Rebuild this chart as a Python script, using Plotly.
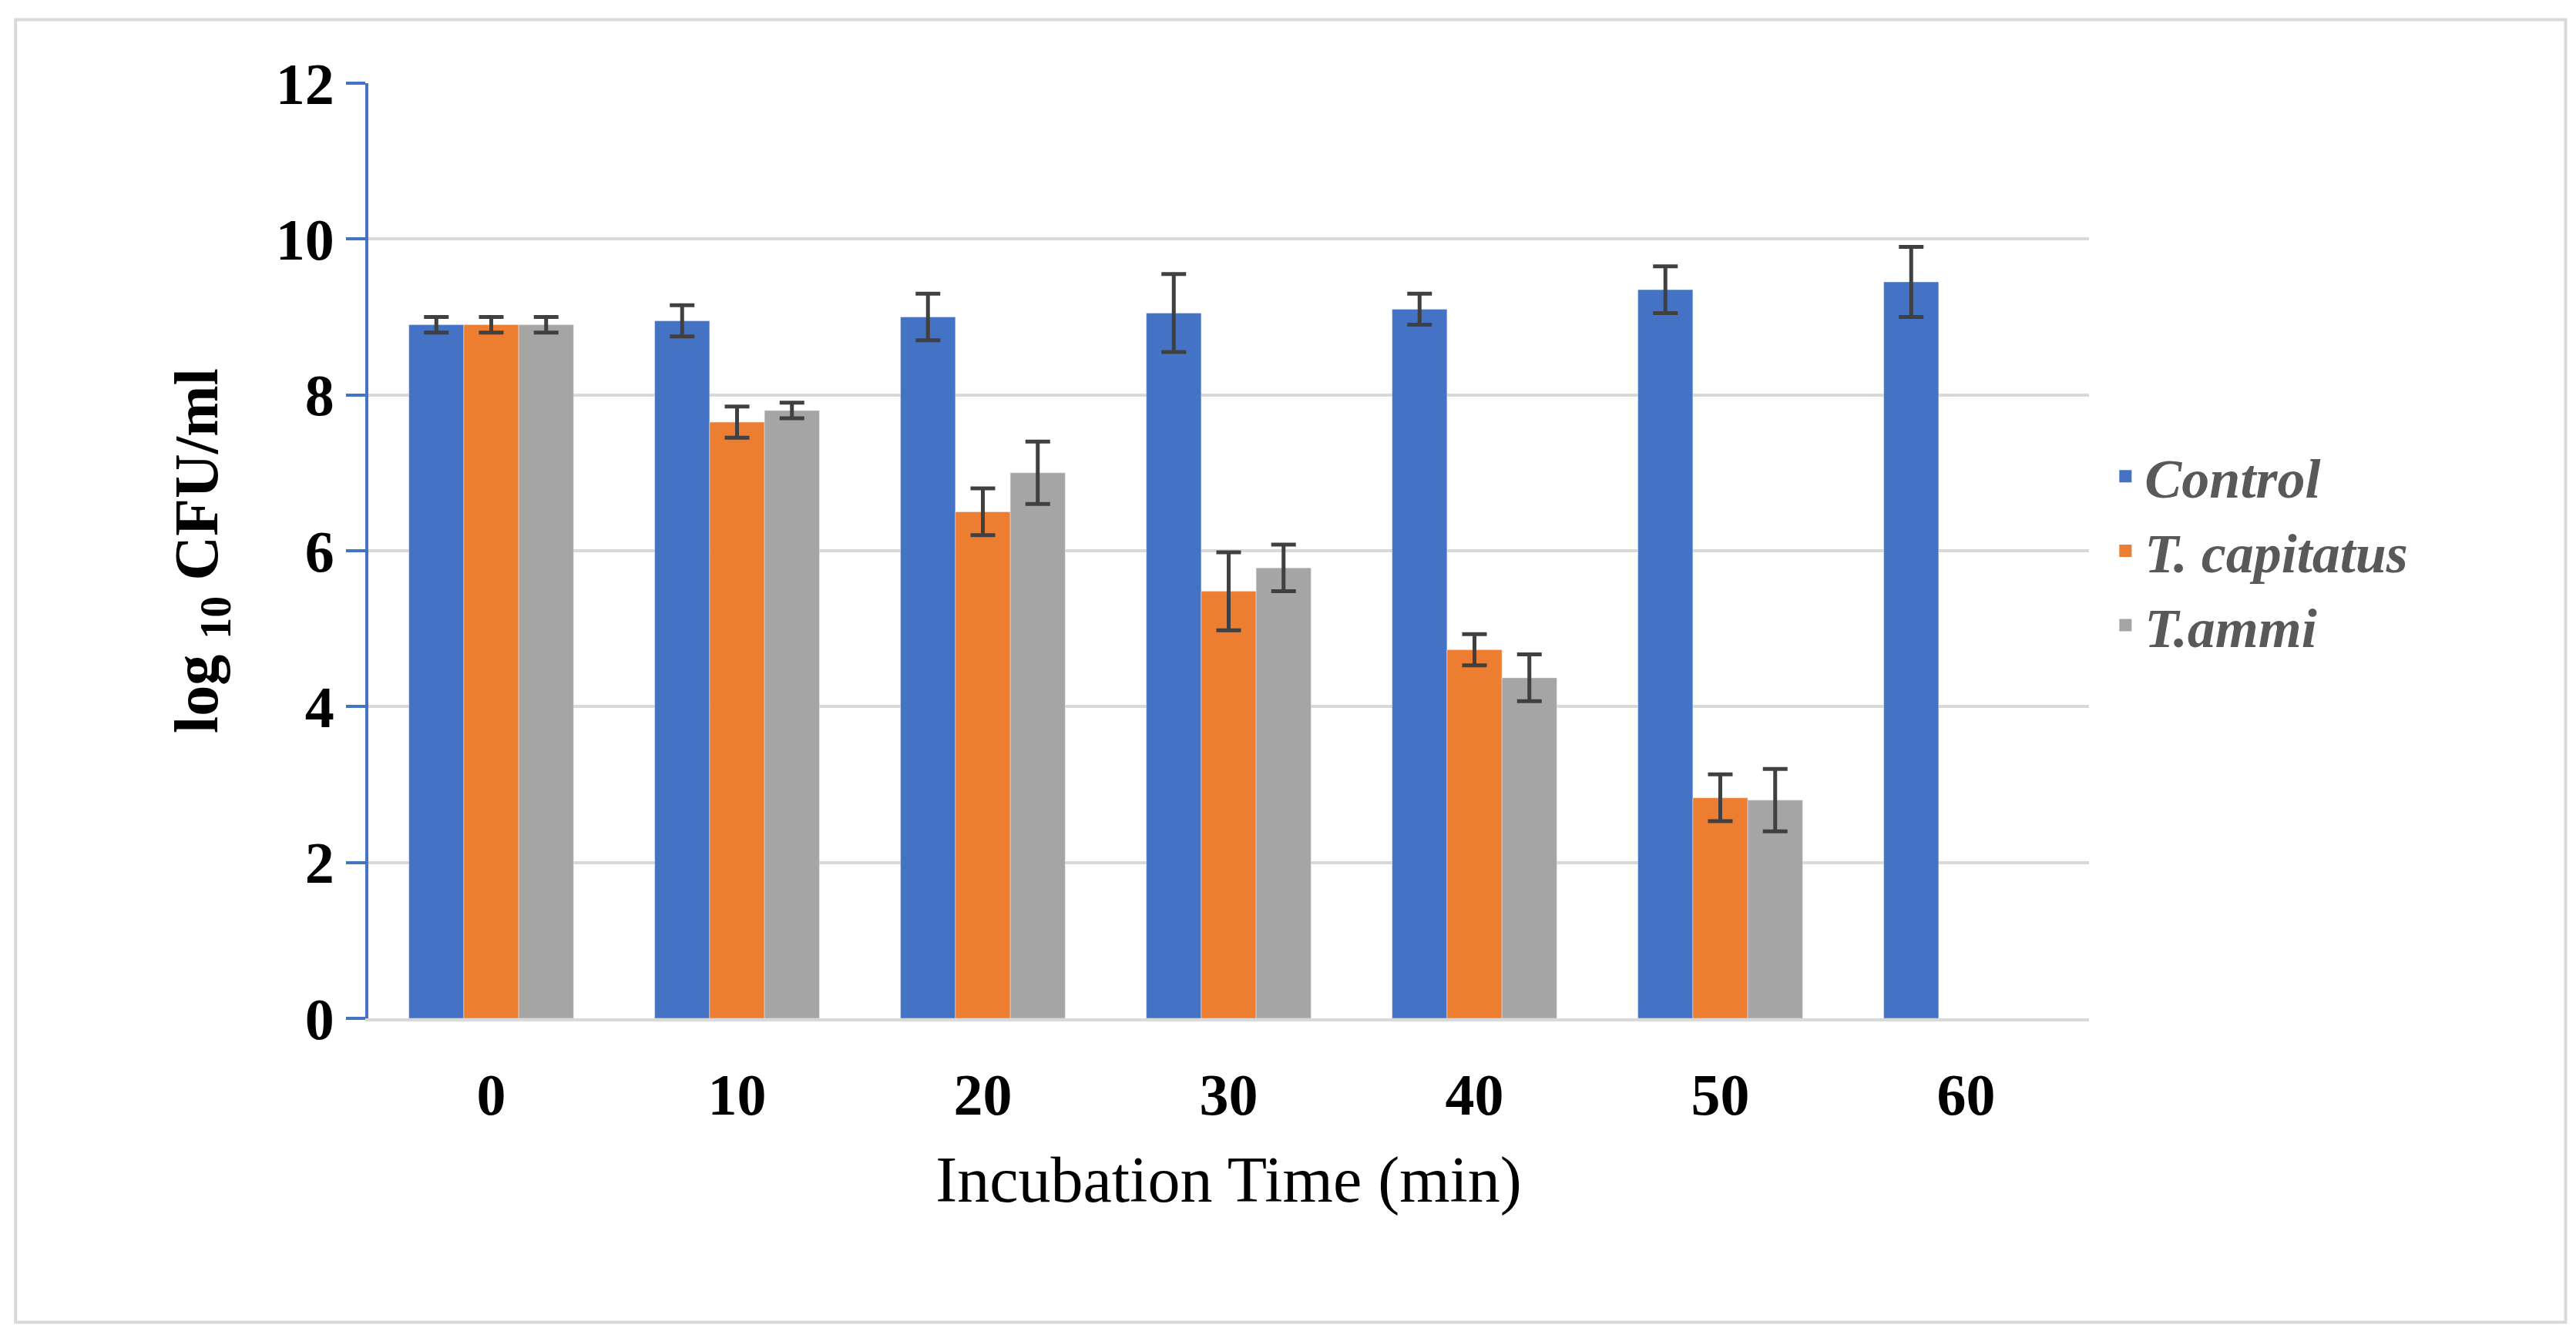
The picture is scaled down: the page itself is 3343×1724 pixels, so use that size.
import plotly.graph_objects as go

times = ["0", "10", "20", "30", "40", "50", "60"]
control = [8.9, 8.95, 9.0, 9.05, 9.1, 9.35, 9.45]
control_err = [0.1, 0.2, 0.3, 0.5, 0.2, 0.3, 0.45]
capitatus = [8.9, 7.65, 6.5, 5.48, 4.73, 2.83, None]
capitatus_err = [0.1, 0.2, 0.3, 0.5, 0.2, 0.3, None]
ammi = [8.9, 7.8, 7.0, 5.78, 4.37, 2.8, None]
ammi_err = [0.1, 0.1, 0.4, 0.3, 0.3, 0.4, None]

err_style = dict(type="data", color="#404040", thickness=5, width=16)

fig = go.Figure()
for name, vals, errs, col in [
    ("<b><i>Control</i></b>", control, control_err, "#4472c4"),
    ("<b><i>T. capitatus</i></b>", capitatus, capitatus_err, "#ed7d31"),
    ("<b><i>T.ammi</i></b>", ammi, ammi_err, "#a5a5a5"),
]:
    fig.add_trace(go.Bar(x=times, y=vals, name=name, marker_color=col, showlegend=False,
                         error_y=dict(array=errs, **err_style)))
    # legend entry with a larger square swatch
    fig.add_trace(go.Scatter(x=[None], y=[None], mode="markers", name=name,
                             marker=dict(symbol="square", size=34, color=col)))

font = "Liberation Serif"
fig.update_layout(
    width=3343, height=1724,
    paper_bgcolor="white", plot_bgcolor="white",
    margin=dict(l=470, r=640, t=100, b=410),
    barmode="group", bargap=0.33, bargroupgap=0,
    font=dict(family=font, color="black"),
    legend=dict(x=1.01, y=0.5, yanchor="middle", font=dict(size=72, color="#595959", family=font),
                itemsizing="trace", tracegroupgap=60, itemwidth=40),
    xaxis=dict(tickfont=dict(size=76, family=font, weight="bold"),
               title=dict(text="Incubation Time (min)", font=dict(size=84, color="black"), standoff=40),
               showline=True, linecolor="#d9d9d9", linewidth=4, ticks="", ticklabelstandoff=30),
    yaxis=dict(range=[0, 12], dtick=2, tickfont=dict(size=76, family=font, weight="bold"),
               title=dict(text="<b>log <sub>10</sub> CFU/ml</b>", font=dict(size=80), standoff=50),
               showgrid=True, gridcolor="#d9d9d9", gridwidth=4,
               showline=True, linecolor="#4472c4", linewidth=4,
               ticks="outside", tickcolor="#4472c4", ticklen=25, tickwidth=4, zeroline=False),
    shapes=[dict(type="rect", xref="paper", yref="paper", x0=-0.205, x1=1.277, y0=-0.325, y1=1.068,
                 line=dict(color="#d9d9d9", width=4))],
)
fig.write_html("out.html")
